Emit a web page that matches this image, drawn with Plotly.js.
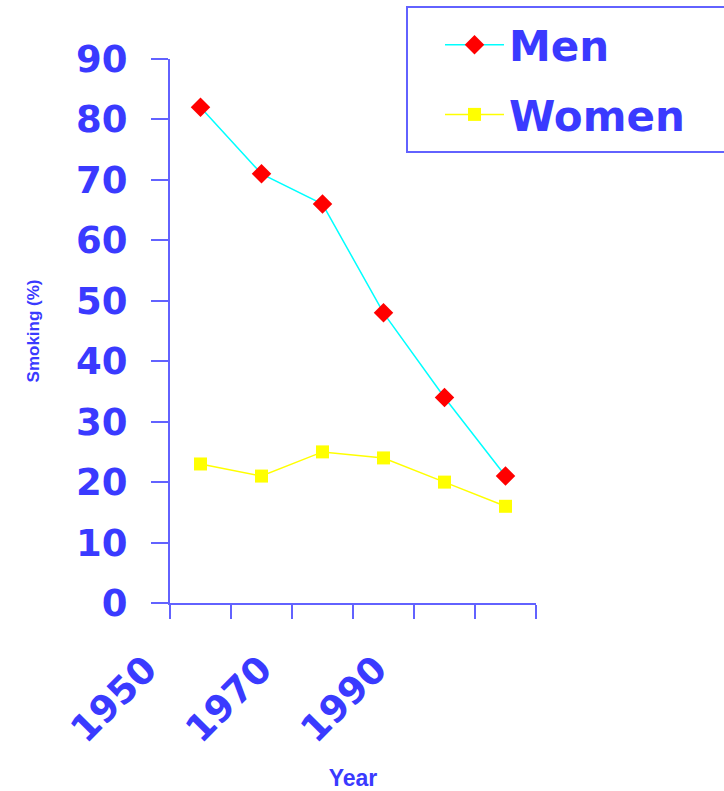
<!DOCTYPE html>
<html>
<head>
<meta charset="utf-8">
<script src="https://cdn.plot.ly/plotly-3.0.1.min.js"></script>
<style>html,body{margin:0;padding:0;background:#fff;}#chart{width:724px;height:791px;}</style>
</head>
<body>
<div id="chart"></div>
<script>
const years = [1955, 1965, 1975, 1985, 1995, 2005];
const men = [82, 71, 66, 48, 34, 21];
const women = [23, 21, 25, 24, 20, 16];
const xTickVals = [1950, 1960, 1970, 1980, 1990, 2000, 2010];
const xLabelVals = [1950, 1970, 1990];
const xLabelText = ['1950', '1970', '1990'];
const yTickVals = [0, 10, 20, 30, 40, 50, 60, 70, 80, 90];

const blueText = '#3a3aff';
const axisBlue = '#6262ff';
const bigFont = {family: 'DejaVu Sans', size: 37, color: blueText, weight: 'bold'};

// paper area: x 100..536 (436 px), main plot starts at 170
const paperL = 100, paperW = 436;
const mainStart = (170 - paperL) / paperW;

const traces = [
  {x: years, y: men, name: 'Men', type: 'scatter', mode: 'lines+markers',
   legendgroup: 'a',
   line: {color: '#00ffff', width: 1.5},
   marker: {symbol: 'diamond', color: '#ff0000', size: 15}},
  {x: years, y: women, name: 'Women', type: 'scatter', mode: 'lines+markers',
   legendgroup: 'b',
   line: {color: '#ffff00', width: 1.5},
   marker: {symbol: 'square', color: '#ffff00', size: 13}},
  // empty helper trace so the label axis is drawn
  {x: xLabelVals, y: [null, null, null], xaxis: 'x2', type: 'scatter', mode: 'markers',
   showlegend: false, hoverinfo: 'skip'}
];

const layout = {
  width: 724, height: 791,
  paper_bgcolor: '#ffffff', plot_bgcolor: 'rgba(0,0,0,0)',
  margin: {l: paperL, r: 188, t: 59, b: 188, autoexpand: false},
  showlegend: true,
  legend: {
    x: (440 - paperL) / paperW, y: (603 - 11) / 544, xanchor: 'left', yanchor: 'top',
    borderwidth: 0, bgcolor: 'rgba(255,255,255,0)',
    font: {family: 'DejaVu Sans', size: 42, color: blueText, weight: 'bold'},
    itemwidth: 59, tracegroupgap: 12, itemclick: false
  },
  shapes: [
    {type: 'rect', xref: 'paper', yref: 'paper',
     x0: (407 - paperL) / paperW, x1: (740 - paperL) / paperW,
     y0: (603 - 152) / 544, y1: (603 - 7) / 544,
     line: {color: axisBlue, width: 2}, fillcolor: 'rgba(0,0,0,0)', layer: 'above'}
  ],
  xaxis: {
    domain: [mainStart, 1],
    range: [1950, 2010], tickmode: 'array', tickvals: xTickVals, showticklabels: false,
    ticks: 'outside', ticklen: 14, tickwidth: 2, tickcolor: axisBlue,
    showline: true, linecolor: axisBlue, linewidth: 2,
    showgrid: false, zeroline: false,
    title: {text: 'Year', font: {family: 'Liberation Sans', size: 23, color: blueText, weight: 'bold'}, standoff: 160}
  },
  xaxis2: {
    side: 'bottom', anchor: 'y', domain: [0, 1],
    range: [1942, 2017.83], tickmode: 'array', tickvals: xLabelVals, ticktext: xLabelText,
    tickangle: -45, tickfont: bigFont, ticks: '', showline: false,
    showgrid: false, zeroline: false, ticklabelstandoff: 36
  },
  yaxis: {
    range: [0, 90], tickmode: 'array', tickvals: yTickVals,
    tickfont: bigFont, anchor: 'x',
    ticks: 'outside', ticklen: 17, tickwidth: 2, tickcolor: axisBlue,
    showline: true, linecolor: axisBlue, linewidth: 2,
    showgrid: false, zeroline: false, ticklabelstandoff: 16,
    title: {text: 'Smoking (%)', font: {family: 'Liberation Sans', size: 17, color: blueText, weight: 'bold'}, standoff: 32}
  }
};

Plotly.newPlot('chart', traces, layout, {displayModeBar: false, staticPlot: true});
</script>
</body>
</html>
